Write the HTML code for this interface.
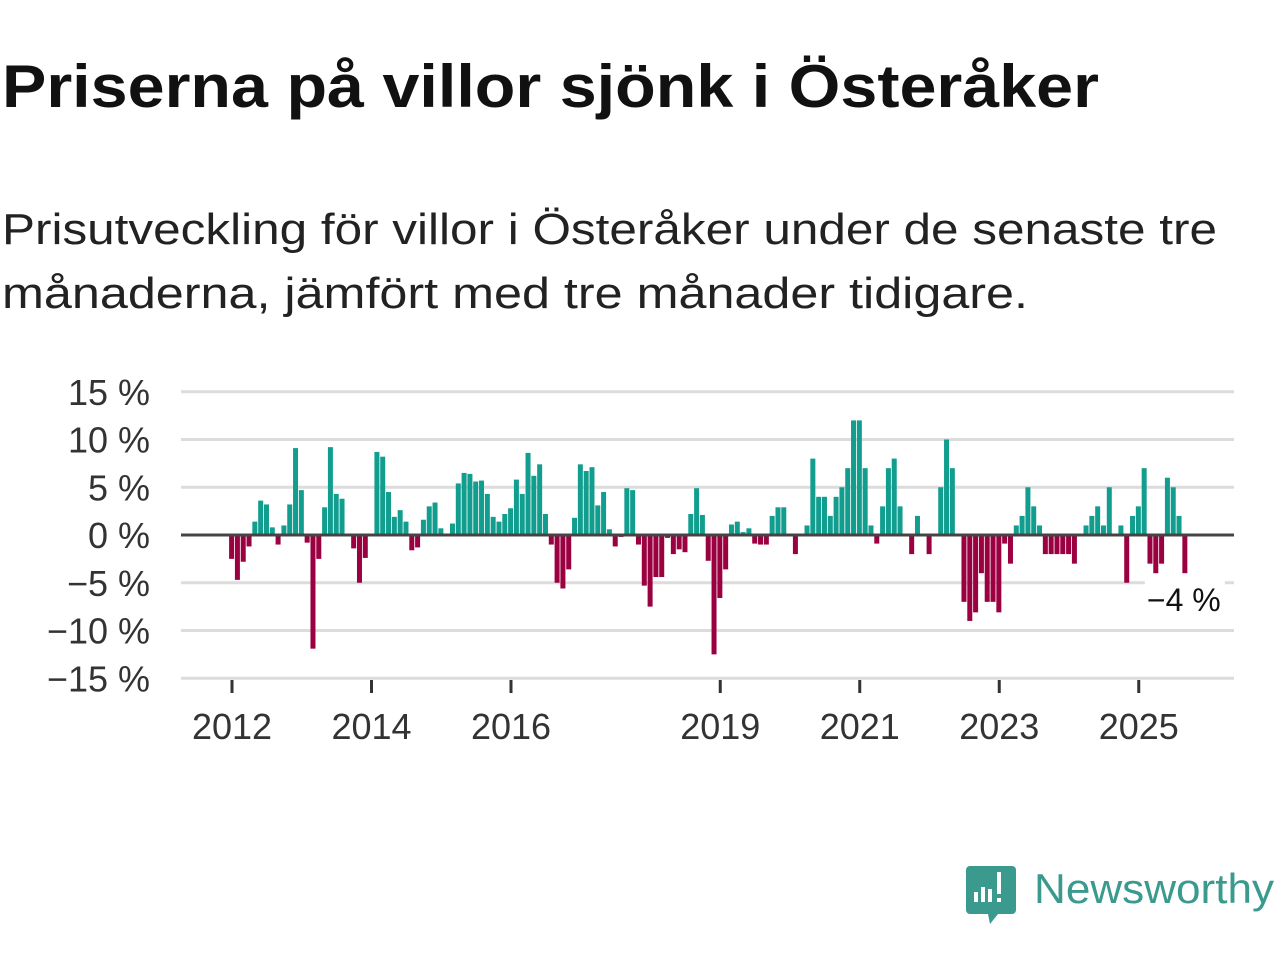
<!DOCTYPE html>
<html><head><meta charset="utf-8"><style>
html,body{margin:0;padding:0;background:#fff;width:1280px;height:960px;overflow:hidden}
svg{display:block}
</style></head><body>
<svg id="chart" width="1280" height="960" xmlns="http://www.w3.org/2000/svg">
<text x="2" y="107" font-family="Liberation Sans, sans-serif" font-weight="bold" font-size="60" fill="#111" textLength="1097" lengthAdjust="spacingAndGlyphs">Priserna på villor sjönk i Österåker</text>
<text x="2" y="244" font-family="Liberation Sans, sans-serif" font-size="44" fill="#222" textLength="1215" lengthAdjust="spacingAndGlyphs">Prisutveckling för villor i Österåker under de senaste tre</text>
<text x="2" y="308" font-family="Liberation Sans, sans-serif" font-size="44" fill="#222" textLength="1026" lengthAdjust="spacingAndGlyphs">månaderna, jämfört med tre månader tidigare.</text>
<g id="grid"></g><g id="bars"></g><g id="axes"></g>
<g>
<path d="M970 866 h42 a4 4 0 0 1 4 4 v40 a4 4 0 0 1 -4 4 h-14 l-8 10 l-2 -10 h-18 a4 4 0 0 1 -4 -4 v-40 a4 4 0 0 1 4 -4z" fill="#3a9a8e"/>
<rect x="974" y="892" width="4" height="10" fill="#fff"/><rect x="981" y="887" width="4" height="15" fill="#fff"/><rect x="988" y="889" width="4" height="13" fill="#fff"/><rect x="997" y="872" width="4" height="22" fill="#fff"/><rect x="997" y="898" width="4" height="4" fill="#fff"/>
<text x="1034" y="903" font-family="Liberation Sans, sans-serif" font-size="42" fill="#3a9a8e" textLength="240" lengthAdjust="spacingAndGlyphs">Newsworthy</text>
</g>
</svg>
<script>
const values = [-2.5,-4.7,-2.8,-1.2,1.4,3.6,3.2,0.8,-1.0,1.0,3.2,9.1,
4.7,-0.8,-11.9,-2.5,2.9,9.2,4.3,3.8,0,-1.4,-5,-2.4,
0,8.7,8.2,4.5,1.9,2.6,1.4,-1.6,-1.3,1.6,3.0,3.4,
0.7,0,1.2,5.4,6.5,6.4,5.6,5.7,4.3,1.9,1.4,2.2,
2.8,5.8,4.3,8.6,6.2,7.4,2.2,-1,-5,-5.6,-3.6,1.8,
7.4,6.7,7.1,3.1,4.5,0.6,-1.2,-0.2,4.9,4.7,-1,-5.3,
-7.5,-4.4,-4.4,-0.3,-2,-1.5,-1.8,2.2,4.9,2.1,-2.7,-12.5,
-6.6,-3.6,1.1,1.4,0.3,0.7,-0.9,-1.0,-1.0,2.0,2.9,2.9,
0,-2,0,1.0,8.0,4.0,4.0,2.0,4.0,5.0,7.0,12.0,
12.0,7.0,1.0,-0.9,3.0,7.0,8.0,3.0,0,-2,2,0,
-2,0,5,10,7,0,-7,-9,-8.1,-4,-7,-7,
-8.1,-0.9,-3,1,2,5,3,1,-2,-2,-2,-2,
-2,-3,0,1,2,3,1,5,0,1,-5,2,
3,7,-3,-4,-3,6,5,2,-4];
const yTicks = [15,10,5,0,-5,-10,-15];
const yTickLabels = ["15 %","10 %","5 %","0 %","\u22125 %","\u221210 %","\u221215 %"];
const xYears = [2012,2014,2016,2019,2021,2023,2025];
const lastLabel = "\u22124 %";

const NS="http://www.w3.org/2000/svg";
const y = v => 535 - v*9.55;
const xYear = yr => 232 + (yr-2012)*69.75;
const xMonth = i => 231.6 + i*69.75/12;
function mk(tag, attrs, parent){const e=document.createElementNS(NS,tag);for(const k in attrs)e.setAttribute(k,attrs[k]);parent.appendChild(e);return e;}
const grid=document.getElementById('grid'), bars=document.getElementById('bars'), axes=document.getElementById('axes');
yTicks.forEach((t,i)=>{
  if(t!==0){const l=mk('line',{x1:181,x2:1234,y1:y(t),y2:y(t),stroke:'#dcdcdc','stroke-width':3},grid);
  
  }
  const tx=mk('text',{x:150,y:y(t)+13,'text-anchor':'end','font-family':'Liberation Sans, sans-serif','font-size':36,fill:'#333'},axes);
  tx.textContent=yTickLabels[i];
  
  
});
values.forEach((v,i)=>{
  const top=Math.min(y(v),y(0)), h=Math.abs(y(v)-y(0));
  if(h<0.5) return;
  const r=mk('rect',{x:xMonth(i)-2.5,y:top,width:5,height:h,fill:v>=0?'#119e8e':'#9b0040'},bars);
  
  
});
const z=mk('line',{x1:181,x2:1234,y1:y(0),y2:y(0),stroke:'#444','stroke-width':3},axes);


xYears.forEach(yr=>{
  const t=mk('line',{x1:xYear(yr),x2:xYear(yr),y1:680,y2:693,stroke:'#333','stroke-width':3},axes);
  
  
  const l=mk('text',{x:xYear(yr),y:739,'text-anchor':'middle','font-family':'Liberation Sans, sans-serif','font-size':36,fill:'#333'},axes);
  l.textContent=yr;
  
  
});
const li=values.length-1;
const bg=mk('rect',{x:xMonth(li)-40,y:580,width:80,height:36,fill:'#fff'},axes);


const lt=mk('text',{x:xMonth(li)-1,y:611,'text-anchor':'middle','font-family':'Liberation Sans, sans-serif','font-size':32,fill:'#111'},axes);
lt.textContent=lastLabel;


</script>
</body></html>
